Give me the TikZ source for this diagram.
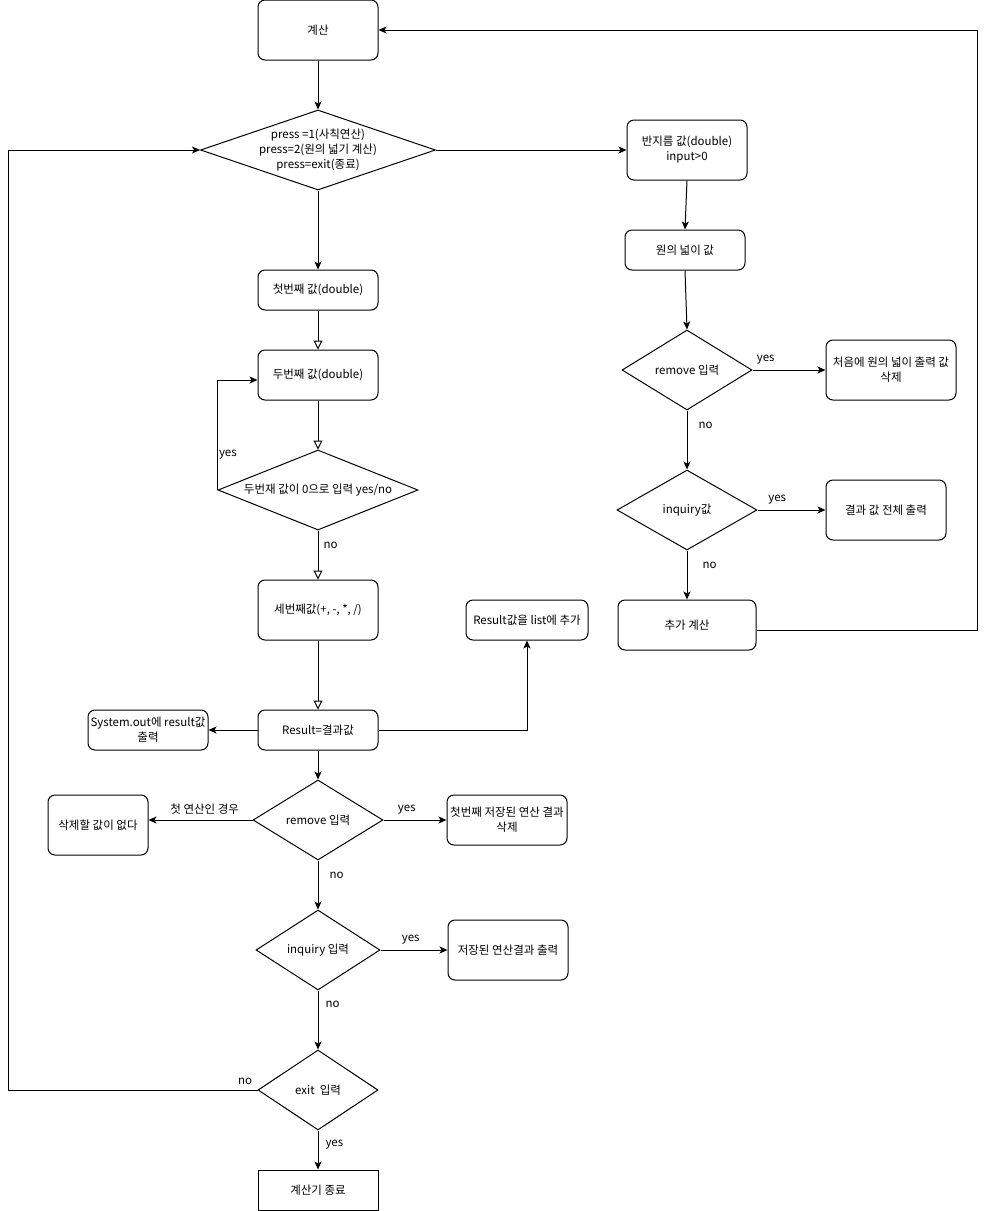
\documentclass[tikz,border=0pt]{standalone}
\usepackage{fontspec}
\setmainfont{Noto Sans CJK KR}
\usetikzlibrary{arrows.meta,positioning,shapes.geometric}

\begin{document}
\begin{tikzpicture}[x=1pt, y=-1pt,
  font=\fontsize{11.5}{15}\selectfont,
  caja/.style={draw, rounded corners=7pt, line width=1pt, align=center,
               minimum width=120pt, minimum height=40pt, inner sep=2pt},
  recta/.style={draw, line width=1pt, align=center,
                minimum width=120pt, minimum height=40pt},
  rombo/.style={draw, diamond, line width=1pt, inner sep=0pt},
  texto/.style={align=center, inner sep=0pt},
  flecha/.style={-{Stealth[length=8pt, width=7pt, inset=2pt]}, line width=1pt},
  hueca/.style={-{Triangle[open, length=9pt, width=9pt]}, line width=1pt},
  etiqueta/.style={inner sep=1pt},
]
  \useasboundingbox (0,0) rectangle (986,1211);

  % columna principal
  \node[caja, minimum height=60pt] (calc) at (318,30) {계산};
  \node[rombo, minimum width=235pt, minimum height=80pt] (menu) at (318,150) {};
  \node[texto] (menu-t) at (menu)
    {press =1(사칙연산)\\press=2(원의 넓기 계산)\\press=exit(종료)};
  \node[caja] (first) at (318,290) {첫번째 값(double)};
  \node[caja, minimum height=50pt] (second) at (318,375) {두번째 값(double)};
  \node[rombo, minimum width=200pt, minimum height=80pt] (zero) at (318,490) {};
  \node[texto] (zero-t) at (zero) {두번재 값이 0으로 입력 yes/no};
  \node[caja, minimum height=60pt] (oper) at (318,610) {세번째값(+, -, *, /)};
  \node[caja] (result) at (318,730) {Result=결과값};
  \node[caja] (sysout) at (148,730) {System.out에 result값\\출력};
  \node[caja, minimum width=122pt] (addlist) at (527,620) {Result값을 list에 추가};
  \node[rombo, minimum width=130pt, minimum height=80pt] (remove) at (318,820) {};
  \node[texto] (remove-t) at (remove) {remove 입력};
  \node[caja, minimum width=100pt, minimum height=60pt] (nothing) at (98,825) {삭제할 값이 없다};
  \node[caja, minimum height=50pt] (delfirst) at (507,820) {첫번째 저장된 연산 결과\\삭제};
  \node[rombo, minimum width=124pt, minimum height=80pt] (inquiry) at (318,950) {};
  \node[texto] (inquiry-t) at (inquiry) {inquiry 입력};
  \node[caja, minimum height=60pt] (stored) at (508,950) {저장된 연산결과 출력};
  \node[rombo, minimum width=120pt, minimum height=80pt] (quit) at (318,1090) {};
  \node[texto] (quit-t) at (quit) {exit\ \ 입력};
  \node[recta] (finish) at (318,1190) {계산기 종료};

  % columna del circulo
  \node[caja, minimum height=60pt] (radius) at (687,150) {반지름 값(double)\\input>0};
  \node[caja] (area) at (685,250) {원의 넓이 값};
  \node[rombo, minimum width=130pt, minimum height=80pt] (cremove) at (687,370) {};
  \node[texto] (cremove-t) at (cremove) {remove 입력};
  \node[caja, minimum width=130pt, minimum height=60pt] (cdelete) at (891,370)
    {처음에 원의 넓이 출력 값\\삭제};
  \node[rombo, minimum width=140pt, minimum height=80pt] (cinquiry) at (687,510) {};
  \node[texto] (cinquiry-t) at (cinquiry) {inquiry값};
  \node[caja, minimum height=60pt] (callout) at (886,510) {결과 값 전체 출력};
  \node[caja, minimum width=138pt, minimum height=50pt] (more) at (687,625) {추가 계산};

  \coordinate (leftedge) at (8,1090);
  \coordinate (rightedge) at (977,630);

  % conectores
  \draw[flecha] (calc) -- (menu);
  \draw[flecha] (menu.south) -- (first.north);
  \draw[hueca] (first) -- (second);
  \draw[hueca] (second) -- (zero.north);
  \draw[flecha] (zero.west) |- node[etiqueta, pos=.16, right] {yes}
    ([yshift=-5pt]second.west);
  \draw[hueca] (zero.south) -- node[etiqueta, pos=.3, right=4pt] {no} (oper.north);
  \draw[hueca] (oper) -- (result);
  \draw[flecha] (result) -- (sysout);
  \draw[flecha] (result.east) -| (addlist.south);
  \draw[flecha] (result.south) -- (remove.north);
  \draw[flecha] (remove.west) -- node[etiqueta, pos=.46, above=4pt] {첫 연산인 경우}
    (nothing.east |- remove.west);
  \draw[flecha] (remove.east) -- node[etiqueta, pos=.37, above=4pt] {yes} (delfirst.west);
  \draw[flecha] (remove.south) -- node[etiqueta, pos=.3, right=10pt] {no} (inquiry.north);
  \draw[flecha] (inquiry.east) -- node[etiqueta, pos=.45, above=4pt] {yes} (stored.west);
  \draw[flecha] (inquiry.south) -- node[etiqueta, pos=.23, right=6pt] {no} (quit.north);
  \draw[flecha] (quit.south) -- node[etiqueta, pos=.35, right=6pt] {yes} (finish.north);
  \draw[flecha] (quit.west) -- node[etiqueta, pos=.05, above=4pt] {no} (leftedge)
    |- (menu.west);

  \draw[flecha] (menu.east) -- (radius.west);
  \draw[flecha] (radius.south) -- (area.north);
  \draw[flecha] (area.south) -- (cremove.north);
  \draw[flecha] (cremove.east) -- node[etiqueta, pos=.18, above=4pt] {yes} (cdelete.west);
  \draw[flecha] (cremove.south) -- node[etiqueta, pos=.25, right=10pt] {no} (cinquiry.north);
  \draw[flecha] (cinquiry.east) -- node[etiqueta, pos=.29, above=4pt] {yes} (callout.west);
  \draw[flecha] (cinquiry.south) -- node[etiqueta, pos=.3, right=14pt] {no} (more.north);
  \draw[flecha] ([yshift=-5pt]more.east) -- (rightedge) |- (calc.east);
\end{tikzpicture}
\end{document}
